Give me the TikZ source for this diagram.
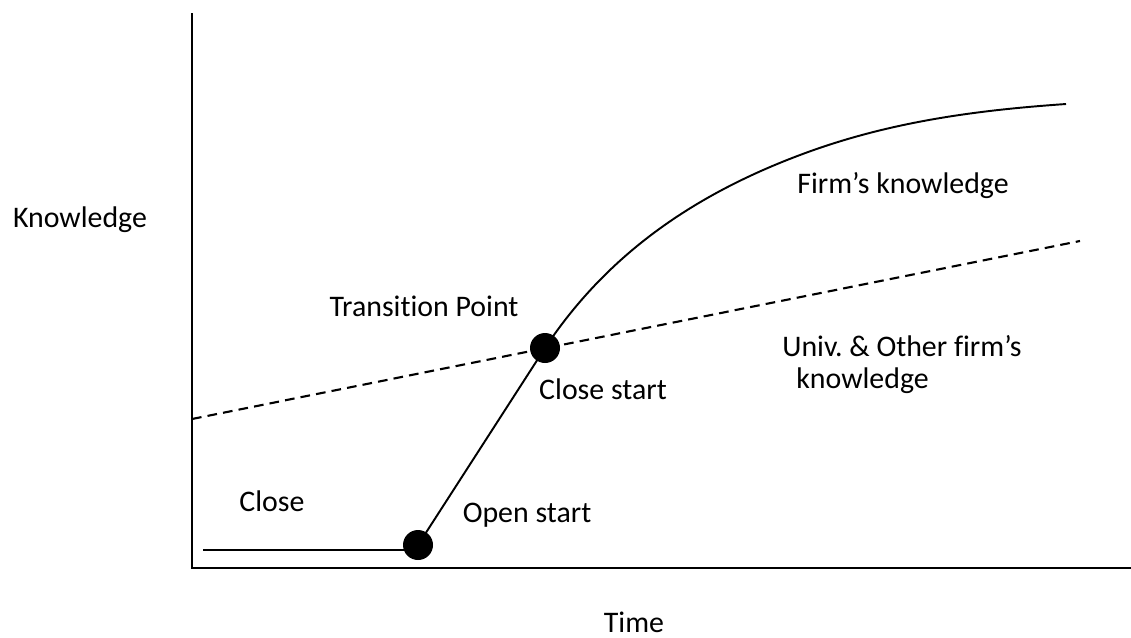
\documentclass[tikz,border=0pt]{standalone}
\usepackage{fontspec}
\setmainfont{Carlito}[Ligatures=NoCommon]
\usetikzlibrary{positioning}

\begin{document}
\begin{tikzpicture}[x=0.02cm,y=-0.02cm,
	dot/.style={circle,fill=black,inner sep=0pt,minimum size=0.6cm},
	lbl/.style={font=\fontsize{17}{20}\selectfont,inner sep=0pt},
	axis/.style={line width=1.5pt},
	firm/.style={line width=1.1pt},
	univ/.style={line width=1.2pt,dash pattern=on 5.5pt off 3.5pt}]
	\useasboundingbox (0,0) rectangle (1131,637);
	% axes
	\coordinate (ytop) at (192,13);
	\coordinate (origin) at (192,568);
	\coordinate (xend) at (1131,568);
	\draw[axis] (ytop)--(origin)--(xend);
	\node[lbl] (ylab) at (80,220) {Knowledge};
	\node[lbl] (xlab) at (634,622) {Time};
	% points
	\node[dot] (open) at (418,545) {};
	\node[dot] (trans) at (545,348) {};
	\coordinate (closebeg) at (203,550);
	\coordinate (firmend) at (1066,104);
	\coordinate (univbeg) at (192,419);
	\coordinate (univend) at (1080,241);
	% curves
	\draw[firm] (closebeg)--(closebeg -| open);
	\draw[firm] (open.center)--(trans.center) .. controls (600,265) and (680,200) .. (800,155) .. controls (890,121) and (980,110) .. (firmend);
	\draw[univ] (univbeg)--(univend);
	% labels
	\node[lbl] (closelab) at (272,501) {Close};
	\node[lbl] (openlab) at (527,515) {Open start};
	\node[lbl] (translab) at (424,306) {Transition Point};
	\node[lbl] (closestart) at (603,389) {Close start};
	\node[lbl] (firmlab) at (903,186) {Firm’s knowledge};
	\node[lbl,anchor=west] (univlab) at (782,346) {Univ.\ \& Other firm’s};
	\node[lbl,anchor=west] (univlabb) at (796,381) {knowledge};
\end{tikzpicture}
\end{document}
